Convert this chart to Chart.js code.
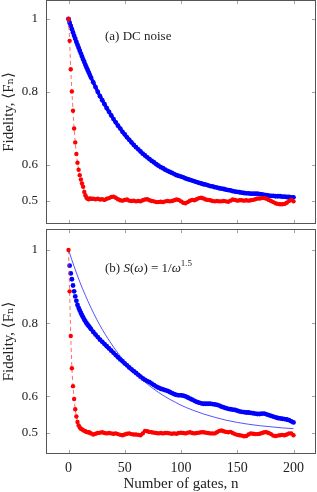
<!DOCTYPE html>
<html>
<head>
<meta charset="utf-8">
<script src="https://cdn.jsdelivr.net/npm/chart.js@4.4.1/dist/chart.umd.min.js"></script>
<style>
  html, body { margin: 0; padding: 0; background: #fff; }
  #wrap { position: relative; width: 317px; height: 492px; overflow: hidden; }
  #wrap canvas { position: absolute; left: 0; }
</style>
</head>
<body>
<div id="wrap">
  <canvas id="chart-a" width="317" height="230" style="top:0"></canvas>
  <canvas id="chart-b" width="317" height="263" style="top:229px"></canvas>
</div>
<script>
// number of gates n (every gate up to 20, then every second gate)
const gates = [0, 1, 2, 3, 4, 5, 6, 7, 8, 9, 10, 11, 12, 13, 14, 15, 16, 17, 18, 19, 20,
  22, 24, 26, 28, 30, 32, 34, 36, 38, 40, 42, 44, 46, 48, 50, 52, 54, 56, 58, 60,
  62, 64, 66, 68, 70, 72, 74, 76, 78, 80, 82, 84, 86, 88, 90, 92, 94, 96, 98, 100,
  102, 104, 106, 108, 110, 112, 114, 116, 118, 120, 122, 124, 126, 128, 130, 132, 134, 136, 138, 140,
  142, 144, 146, 148, 150, 152, 154, 156, 158, 160, 162, 164, 166, 168, 170, 172, 174, 176, 178, 180,
  182, 184, 186, 188, 190, 192, 194, 196, 198, 200];

// (a) DC noise
const blueA = [1.000, 0.990, 0.981, 0.972, 0.963, 0.954, 0.946, 0.937, 0.929, 0.921, 0.913, 0.905, 0.897, 0.889, 0.882, 0.874, 0.867, 0.860, 0.853, 0.846, 0.839,
  0.826, 0.813, 0.800, 0.788, 0.777, 0.766, 0.755, 0.745, 0.735, 0.725,
  0.716, 0.707, 0.699, 0.690, 0.683, 0.675, 0.668, 0.661, 0.654, 0.648,
  0.642, 0.636, 0.630, 0.625, 0.620, 0.615, 0.610, 0.606, 0.601, 0.597,
  0.593, 0.590, 0.586, 0.583, 0.580, 0.577, 0.574, 0.571, 0.569, 0.567,
  0.565, 0.562, 0.560, 0.558, 0.556, 0.554, 0.552, 0.550, 0.548, 0.546,
  0.545, 0.543, 0.541, 0.540, 0.538, 0.537, 0.535, 0.534, 0.533, 0.531,
  0.530, 0.529, 0.527, 0.526, 0.525, 0.524, 0.523, 0.522, 0.521, 0.521,
  0.520, 0.520, 0.520, 0.520, 0.519, 0.518, 0.517, 0.516, 0.515, 0.514,
  0.514, 0.513, 0.513, 0.513, 0.512, 0.512, 0.511, 0.511, 0.510, 0.510];
const redA = [1.000, 0.940, 0.862, 0.801, 0.748, 0.699, 0.661, 0.629, 0.605, 0.586, 0.571, 0.559, 0.548, 0.539, 0.525, 0.516, 0.509, 0.506, 0.505, 0.507, 0.506,
  0.506, 0.505, 0.506, 0.504, 0.505, 0.503, 0.506, 0.508, 0.511, 0.512,
  0.509, 0.505, 0.502, 0.501, 0.503, 0.504, 0.501, 0.500, 0.501, 0.499,
  0.500, 0.499, 0.502, 0.504, 0.505, 0.502, 0.500, 0.499, 0.497, 0.497,
  0.498, 0.497, 0.499, 0.500, 0.499, 0.500, 0.502, 0.504, 0.503, 0.499,
  0.495, 0.494, 0.497, 0.501, 0.503, 0.502, 0.505, 0.508, 0.509, 0.507,
  0.504, 0.503, 0.502, 0.500, 0.499, 0.500, 0.499, 0.499, 0.500, 0.499,
  0.498, 0.501, 0.504, 0.503, 0.501, 0.502, 0.502, 0.501, 0.502, 0.501,
  0.502, 0.503, 0.505, 0.507, 0.507, 0.508, 0.508, 0.506, 0.503, 0.500,
  0.497, 0.494, 0.492, 0.491, 0.491, 0.492, 0.495, 0.500, 0.503, 0.499];

// (b) S(w) = 1/w^1.5
const blueB = [null, 0.957, 0.936, 0.920, 0.903, 0.887, 0.873, 0.861, 0.850, 0.842, 0.835, 0.828, 0.822, 0.816, 0.810, 0.805, 0.800, 0.796, 0.792, 0.788, 0.784,
  0.776, 0.769, 0.762, 0.755, 0.749, 0.743, 0.737, 0.731, 0.725, 0.719,
  0.713, 0.707, 0.701, 0.696, 0.690, 0.685, 0.679, 0.674, 0.669, 0.664,
  0.659, 0.654, 0.649, 0.645, 0.642, 0.639, 0.635, 0.631, 0.627, 0.624,
  0.621, 0.619, 0.617, 0.615, 0.612, 0.609, 0.606, 0.604, 0.603, 0.603,
  0.602, 0.600, 0.597, 0.594, 0.591, 0.588, 0.585, 0.583, 0.581, 0.580,
  0.580, 0.580, 0.580, 0.579, 0.578, 0.577, 0.575, 0.572, 0.570, 0.568,
  0.566, 0.565, 0.564, 0.563, 0.561, 0.559, 0.558, 0.557, 0.556, 0.556,
  0.555, 0.554, 0.553, 0.552, 0.552, 0.553, 0.553, 0.551, 0.549, 0.547,
  0.545, 0.543, 0.541, 0.540, 0.539, 0.538, 0.537, 0.535, 0.532, 0.529];
const redB = [1.000, 0.887, 0.765, 0.677, 0.628, 0.593, 0.565, 0.545, 0.530, 0.521, 0.515, 0.512, 0.510, 0.508, 0.506, 0.505, 0.503, 0.502, 0.502, 0.501, 0.499,
  0.496, 0.498, 0.500, 0.501, 0.502, 0.500, 0.499, 0.500, 0.499, 0.498,
  0.499, 0.497, 0.495, 0.494, 0.496, 0.498, 0.499, 0.497, 0.496, 0.496,
  0.495, 0.494, 0.499, 0.506, 0.505, 0.503, 0.502, 0.501, 0.500, 0.499,
  0.500, 0.499, 0.500, 0.500, 0.499, 0.498, 0.499, 0.498, 0.500, 0.501,
  0.500, 0.499, 0.501, 0.502, 0.500, 0.499, 0.500, 0.501, 0.502, 0.502,
  0.501, 0.500, 0.499, 0.499, 0.499, 0.502, 0.506, 0.507, 0.505, 0.503,
  0.502, 0.503, 0.500, 0.497, 0.495, 0.494, 0.493, 0.491, 0.492, 0.496,
  0.499, 0.498, 0.497, 0.497, 0.498, 0.500, 0.502, 0.502, 0.500, 0.497,
  0.493, 0.492, 0.493, 0.494, 0.495, 0.494, 0.496, 0.499, 0.499, 0.494];

// thin fit curve in (b)
const fitGates = [0, 5, 10, 15, 20, 25, 30, 35, 40, 45, 50, 55, 60, 65, 70, 75, 80, 85, 90, 95, 100,
  110, 120, 130, 140, 150, 160, 170, 180, 190, 200];
const fitB = [1.000, 0.955, 0.913, 0.876, 0.842, 0.811, 0.783, 0.758, 0.735, 0.714, 0.695, 0.678, 0.662, 0.647, 0.634, 0.622, 0.611, 0.601, 0.592, 0.584, 0.576,
  0.563, 0.552, 0.543, 0.535, 0.529, 0.524, 0.520, 0.517, 0.514, 0.512];

const xTicks = [0, 50, 100, 150, 200];
const yTicks = [0.5, 0.6, 0.8, 1];

const SERIF = "'Liberation Serif', 'DejaVu Serif', serif";
const BLUE = '#0000ff';
const RED = '#ff0000';

const pts = (xs, ys) => xs.map((x, i) => ({ x, y: ys[i] })).filter(p => p.y != null);

// frame + inward tick marks on all four sides, like pgfplots
const framePlugin = {
  id: 'frame',
  afterDatasetsDraw(chart) {
    const { ctx, chartArea: a, scales: { x, y } } = chart;
    ctx.save();
    ctx.strokeStyle = '#8a8a8a';
    ctx.lineWidth = 0.8;
    ctx.beginPath();
    yTicks.forEach(v => {
      const py = Math.round(y.getPixelForValue(v)) + 0.5;
      ctx.moveTo(a.left, py); ctx.lineTo(a.left + 4, py);
      ctx.moveTo(a.right, py); ctx.lineTo(a.right - 4, py);
    });
    xTicks.forEach(v => {
      const px = Math.round(x.getPixelForValue(v)) + 0.5;
      ctx.moveTo(px, a.top); ctx.lineTo(px, a.top + 4);
      ctx.moveTo(px, a.bottom); ctx.lineTo(px, a.bottom - 4);
    });
    ctx.stroke();
    ctx.strokeStyle = '#555';
    ctx.lineWidth = 1;
    ctx.strokeRect(a.left + 0.5, a.top + 0.5, a.right - a.left - 1, a.bottom - a.top - 1);
    ctx.restore();
  }
};

// panel label, drawn piece by piece so italics and the exponent look right
const labelPlugin = {
  id: 'panelLabel',
  afterDraw(chart, args, opts) {
    const { ctx, chartArea: a } = chart;
    let x = a.left + opts.dx;
    const y = a.top + opts.dy;
    ctx.save();
    ctx.fillStyle = '#222';
    ctx.textBaseline = 'alphabetic';
    opts.parts.forEach(p => {
      const size = p.sup ? 9 : 13;
      ctx.font = `${p.it ? 'italic ' : ''}${size}px ${SERIF}`;
      ctx.fillText(p.t, x, p.sup ? y - 6 : y);
      x += ctx.measureText(p.t).width;
    });
    ctx.restore();
  }
};

function makePanel(id, blue, red, opts) {
  const datasets = [
    {
      // markers, joined by a band of the same width so the dense part reads as one stroke
      data: pts(gates, blue),
      showLine: true,
      borderColor: BLUE,
      borderWidth: 3.4,
      segment: {
        borderColor: c => (c.p0.parsed.x < opts.bandFrom ? 'rgba(0,0,0,0)' : BLUE)
      },
      pointRadius: 2.4,
      pointBackgroundColor: BLUE,
      pointBorderWidth: 0,
      order: 3
    },
    {
      // dashed where the points are sparse, a solid band once they crowd together
      data: pts(gates, red),
      showLine: true,
      borderColor: 'rgba(255,60,60,0.75)',
      borderWidth: 1,
      borderDash: [4, 3],
      segment: {
        borderColor: c => (c.p0.parsed.x >= 16 ? RED : undefined),
        borderWidth: c => (c.p0.parsed.x >= 16 ? 3 : undefined),
        borderDash: c => (c.p0.parsed.x >= 16 ? [] : undefined)
      },
      pointRadius: 2.2,
      pointBackgroundColor: RED,
      pointBorderWidth: 0,
      order: 1
    }
  ];
  if (opts.fit) {
    datasets.push({
      data: pts(fitGates, opts.fit),
      showLine: true,
      borderColor: 'rgba(30,30,255,0.85)',
      borderWidth: 0.9,
      pointRadius: 0,
      cubicInterpolationMode: 'monotone',
      order: 2
    });
  }

  return new Chart(document.getElementById(id), {
    type: 'scatter',
    data: { datasets },
    options: {
      responsive: false,
      animation: false,
      events: [],
      layout: { autoPadding: false, padding: { left: 0, right: 1, top: 0, bottom: 0 } },
      plugins: {
        legend: { display: false },
        tooltip: { enabled: false },
        panelLabel: { dx: 59, dy: opts.labelDy, parts: opts.label }
      },
      scales: {
        x: {
          type: 'linear',
          min: -20,
          max: 220,
          afterBuildTicks: s => { s.ticks = xTicks.map(v => ({ value: v })); },
          afterFit: s => { s.height = opts.xHeight; s.paddingLeft = 0; s.paddingRight = 0; },
          grid: { display: false, drawTicks: false },
          border: { display: false },
          ticks: {
            display: opts.showX,
            padding: 6,
            color: '#222',
            font: { family: SERIF, size: 14 }
          },
          title: {
            display: opts.showX,
            text: 'Number of gates, n',
            color: '#222',
            padding: { top: 0, bottom: 0 },
            font: { family: SERIF, size: 15, lineHeight: 1 }
          }
        },
        y: {
          min: opts.yMin,
          max: opts.yMax,
          afterBuildTicks: s => { s.ticks = yTicks.map(v => ({ value: v })); },
          afterFit: s => { s.width = 46; s.paddingTop = 0; s.paddingBottom = 0; },
          grid: { display: false, drawTicks: false },
          border: { display: false },
          ticks: {
            padding: 8,
            color: '#222',
            font: { family: SERIF, size: 13 },
            callback: v => (v === 1 ? '1' : v.toFixed(1))
          },
          title: {
            display: true,
            text: 'Fidelity, \u27E8F\u2099\u27E9',
            color: '#222',
            padding: { top: 0, bottom: 0 },
            font: { family: SERIF, size: 15 }
          }
        }
      }
    },
    plugins: [framePlugin, labelPlugin]
  });
}

makePanel('chart-a', blueA, redA, {
  yMin: 0.4368, yMax: 1.0522, xHeight: 6, showX: false, labelDy: 40, bandFrom: 0,
  label: [{ t: '(a) DC noise' }]
});

makePanel('chart-b', blueB, redB, {
  fit: fitB,
  yMin: 0.4427, yMax: 1.0573, xHeight: 38, showX: true, labelDy: 43, bandFrom: 9,
  label: [
    { t: '(b) ' }, { t: 'S', it: true }, { t: '(' }, { t: '\u03C9', it: true },
    { t: ') = 1/' }, { t: '\u03C9', it: true }, { t: '1.5', sup: true }
  ]
});
</script>
</body>
</html>
